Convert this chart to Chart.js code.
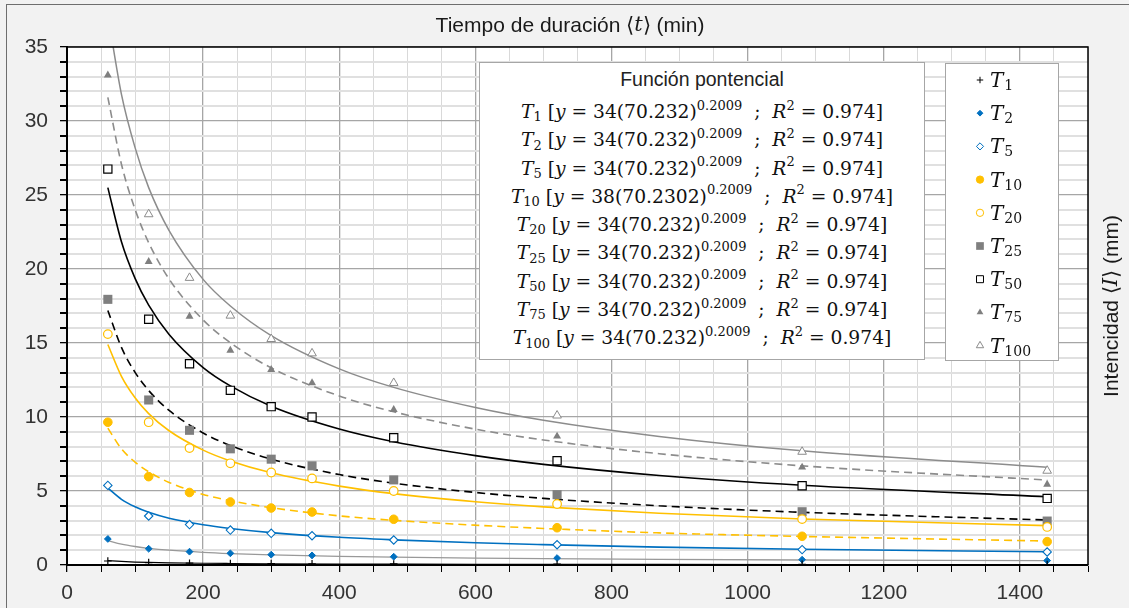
<!DOCTYPE html>
<html>
<head>
<meta charset="utf-8">
<script src="https://cdn.jsdelivr.net/npm/chart.js@4.4.1/dist/chart.umd.min.js"></script>
<style>
  body { margin: 0; background: #f2f2f2; }
  #wrap { position: relative; width: 1129px; height: 608px; }
  #eq {
    position: absolute; left: 479px; top: 62px; width: 446px; height: 298px;
    box-sizing: border-box; background: #fff; border: 1px solid #a6a6a6;
    font-family: 'DejaVu Serif', serif; font-size: 18.7px; color: #111; text-align: center;
  }
  #eq .hd { font-family: 'Liberation Sans', Arial, sans-serif; font-size: 19.5px; color: #222; height: 35px; line-height: 32px; }
  #eq .ln { height: 28.3px; line-height: 28.3px; white-space: nowrap; }
  #eq sup { font-size: 13px; position: relative; top: -0.65em; vertical-align: baseline; line-height: 0; }
  #eq sub { font-size: 13px; position: relative; top: 0.25em; vertical-align: baseline; line-height: 0; }
</style>
</head>
<body>
<div id="wrap">
  <canvas id="idfChart" width="1129" height="608"></canvas>
  <div id="eq"></div>
</div>
<script>
// duraciones (min)
const durations = [60, 120, 180, 240, 300, 360, 480, 720, 1080, 1440];
const seriesNames = ['1', '2', '5', '10', '20', '25', '50', '75', '100'];

// intensidades observadas
const t1 = [0.27, 0.16, 0.12, 0.1, 0.09, 0.08, 0.07, 0.06, 0.04, 0.035];
const t2 = [1.76, 1.1, 0.9, 0.79, 0.7, 0.65, 0.56, 0.47, 0.36, 0.3];
const t5 = [5.38, 3.31, 2.73, 2.36, 2.14, 1.98, 1.69, 1.37, 1.04, 0.88];
const t10 = [9.65, 5.97, 4.9, 4.26, 3.85, 3.58, 3.09, 2.52, 1.94, 1.58];
const t20 = [15.6, 9.65, 7.9, 6.87, 6.25, 5.85, 5.0, 4.12, 3.1, 2.57];
const t25 = [17.95, 11.15, 9.1, 7.85, 7.15, 6.7, 5.75, 4.75, 3.6, 2.97];
const t50 = [26.75, 16.6, 13.6, 11.8, 10.7, 10.0, 8.6, 7.05, 5.35, 4.5];
const t75 = [33.1, 20.5, 16.8, 14.5, 13.2, 12.3, 10.5, 8.7, 6.6, 5.45];
const t100 = [null, 23.7, 19.4, 16.85, 15.27, 14.3, 12.3, 10.1, 7.65, 6.37];

// curvas de tendencia
const trendX = [60, 80, 100, 120, 150, 200, 240, 300, 400, 480, 600, 700, 870, 1080, 1440];
const fit1 = [0.29, 0.24, 0.2, 0.175, 0.148, 0.118, 0.103, 0.086, 0.068, 0.059, 0.049, 0.043, 0.036, 0.03, 0.023];
const fit2 = [1.65, 1.41, 1.25, 1.13, 1.0, 0.853, 0.772, 0.683, 0.583, 0.528, 0.467, 0.429, 0.381, 0.338, 0.289];
const fit5 = [5.2, 4.44, 3.93, 3.56, 3.16, 2.72, 2.47, 2.19, 1.87, 1.7, 1.5, 1.38, 1.21, 1.06, 0.9];
const fit10 = [9.25, 7.85, 6.95, 6.3, 5.58, 4.77, 4.35, 3.87, 3.32, 3.02, 2.69, 2.47, 2.17, 1.93, 1.62];
const fit20 = [14.9, 12.75, 11.3, 10.23, 9.07, 7.76, 7.03, 6.23, 5.33, 4.82, 4.27, 3.93, 3.5, 3.11, 2.66];
const fit25 = [17.2, 14.7, 13.02, 11.79, 10.44, 8.92, 8.08, 7.15, 6.11, 5.53, 4.9, 4.5, 4.0, 3.56, 3.04];
const fit50 = [25.5, 21.84, 19.37, 17.56, 15.58, 13.34, 12.1, 10.73, 9.19, 8.33, 7.39, 6.8, 6.05, 5.39, 4.61];
const fit75 = [31.6, 27.08, 24.03, 21.78, 19.32, 16.56, 15.02, 13.32, 11.42, 10.35, 9.18, 8.45, 7.52, 6.7, 5.74];
const fit100 = [37.2, 31.8, 28.2, 25.5, 22.6, 19.3, 17.5, 15.5, 13.25, 12.0, 10.64, 9.78, 8.69, 7.72, 6.6];

// ecuaciones del cuadro
const eqCoef = ['34', '34', '34', '38', '34', '34', '34', '34', '34'];
const eqBase = ['70.232', '70.232', '70.232', '70.2302', '70.232', '70.232', '70.232', '70.232', '70.232'];
const eqExp = '0.2009';
const eqR2 = '0.974';

const observed = [t1, t2, t5, t10, t20, t25, t50, t75, t100];
const fitted = [fit1, fit2, fit5, fit10, fit20, fit25, fit50, fit75, fit100];

const styles = [
    { color: '#000000', marker: 'cross', r: 3.8, fill: false, bw: 1, line: '#000000', lw: 1.2, dash: [] },
    { color: '#0070c0', marker: 'rectRot', r: 3.4, fill: true, bw: 1, line: '#999999', lw: 1.3, dash: [] },
    { color: '#0070c0', marker: 'rectRot', r: 4.2, fill: false, bw: 1.1, line: '#0070c0', lw: 1.6, dash: [] },
    { color: '#ffc000', marker: 'circle', r: 4.3, fill: true, bw: 1, line: '#ffc000', lw: 1.6, dash: [8, 5] },
    { color: '#ffc000', marker: 'circle', r: 4.3, fill: false, bw: 1.2, line: '#ffc000', lw: 1.6, dash: [] },
    { color: '#7f7f7f', marker: 'rect', r: 6.4, fill: true, bw: 0, line: '#000000', lw: 1.6, dash: [8, 5] },
    { color: '#000000', marker: 'rect', r: 5.8, fill: false, bw: 1.2, line: '#000000', lw: 1.6, dash: [] },
    { color: '#7f7f7f', marker: 'triangle', r: 4.6, fill: true, bw: 0, line: '#8c8c8c', lw: 1.6, dash: [8, 5] },
    { color: '#8c8c8c', marker: 'triangle', r: 5, fill: false, bw: 1, line: '#8c8c8c', lw: 1.5, dash: [] },
];

const datasets = [];
seriesNames.forEach((name, i) => {
    const s = styles[i];
    datasets.push({
        label: 'fit T' + name,
        data: trendX.map((x, j) => ({ x: x, y: fitted[i][j] })),
        showLine: true,
        borderColor: s.line,
        borderWidth: s.lw,
        borderDash: s.dash,
        pointRadius: 0,
        cubicInterpolationMode: 'monotone',
        order: 1,
    });
    datasets.push({
        label: 'T' + name,
        data: durations.map((x, j) => ({ x: x, y: observed[i][j] })),
        showLine: false,
        pointStyle: s.marker,
        pointRadius: s.r,
        pointBackgroundColor: s.fill ? s.color : '#ffffff',
        pointBorderColor: s.color,
        pointBorderWidth: s.marker === 'cross' ? 1.2 : s.bw,
        order: 0,
    });
});

// cuadro de ecuaciones
const eqBox = document.getElementById('eq');
let html = '<div class="hd">Función pontencial</div>';
seriesNames.forEach((name, i) => {
    html += '<div class="ln"><i>T</i><sub>' + name + '</sub> [<i>y</i> = ' + eqCoef[i] + '(' + eqBase[i] + ')<sup>' +
        eqExp + '</sup>&nbsp; ;&nbsp; <i>R</i><sup>2</sup> = ' + eqR2 + ']</div>';
});
eqBox.innerHTML = html;

const sans = "'Liberation Sans', Arial, sans-serif";

function drawMixed(ctx, parts, x, y, align) {
    let total = 0;
    parts.forEach(p => { ctx.font = p.font; total += ctx.measureText(p.text).width; });
    let cx = align === 'center' ? x - total / 2 : x;
    parts.forEach(p => {
        ctx.font = p.font;
        ctx.fillText(p.text, cx, y);
        cx += ctx.measureText(p.text).width;
    });
}

const decorPlugin = {
    id: 'decor',
    beforeDraw(chart) {
        const { ctx, chartArea: a, width, height } = chart;
        ctx.save();
        ctx.fillStyle = '#f2f2f2';
        ctx.fillRect(0, 0, width, height);
        ctx.fillStyle = '#ffffff';
        ctx.fillRect(a.left, a.top, a.right - a.left, a.bottom - a.top);
        ctx.strokeStyle = '#6e6e6e';
        ctx.lineWidth = 1;
        ctx.strokeRect(6.5, 4.5, width, height);
        ctx.restore();
    },
    afterDraw(chart) {
        const { ctx, chartArea: a } = chart;
        ctx.save();
        // marco del area
        ctx.strokeStyle = '#000';
        ctx.lineWidth = 1.5;
        ctx.beginPath();
        ctx.moveTo(a.left, a.top);
        ctx.lineTo(a.right, a.top);
        ctx.lineTo(a.right, a.bottom);
        ctx.stroke();

        // titulos
        ctx.fillStyle = '#1a1a1a';
        ctx.textBaseline = 'middle';
        drawMixed(ctx, [
            { text: 'Tiempo de duración ⟨', font: '21px ' + sans },
            { text: 't', font: "italic 21px 'DejaVu Serif', serif" },
            { text: '⟩ (min)', font: '21px ' + sans },
        ], 570, 26, 'center');

        ctx.save();
        ctx.translate(1112, (a.top + a.bottom) / 2);
        ctx.rotate(-Math.PI / 2);
        drawMixed(ctx, [
            { text: 'Intencidad ⟨', font: '21px ' + sans },
            { text: 'I', font: "italic 21px 'DejaVu Serif', serif" },
            { text: '⟩ (mm)', font: '21px ' + sans },
        ], 0, 0, 'center');
        ctx.restore();

        // leyenda
        const lx = 945, ly = 63, lw = 113, lh = 297;
        ctx.fillStyle = '#ffffff';
        ctx.fillRect(lx, ly, lw, lh);
        ctx.strokeStyle = '#a6a6a6';
        ctx.lineWidth = 1;
        ctx.strokeRect(lx + 0.5, ly + 0.5, lw, lh);
        seriesNames.forEach((name, i) => {
            const s = styles[i];
            const cy = 80 + i * 33.2;
            ctx.fillStyle = s.fill ? s.color : '#ffffff';
            ctx.strokeStyle = s.color;
            Chart.helpers.drawPoint(ctx, {
                pointStyle: s.marker,
                radius: s.r * 0.85,
                rotation: 0,
                borderWidth: s.marker === 'cross' ? 1.2 : s.bw,
            }, 980, cy);
            ctx.fillStyle = '#111';
            ctx.textBaseline = 'alphabetic';
            ctx.textAlign = 'left';
            ctx.font = "italic 20px 'DejaVu Serif', serif";
            ctx.fillText('T', 990, cy + 7);
            const tw = ctx.measureText('T').width;
            ctx.font = "14px 'DejaVu Serif', serif";
            ctx.fillText(name, 990 + tw + 1, cy + 10);
        });
        ctx.restore();
    },
};

const canvas = document.getElementById('idfChart');
new Chart(canvas.getContext('2d'), {
    type: 'scatter',
    data: { datasets: datasets },
    options: {
        responsive: false,
        animation: false,
        layout: { padding: { top: 47, right: 41, left: 0, bottom: 0 } },
        plugins: {
            legend: { display: false },
            tooltip: { enabled: false },
        },
        scales: {
            x: {
                type: 'linear',
                position: 'bottom',
                min: 0,
                max: 1500,
                afterFit: (scale) => { scale.height = 43; },
                ticks: {
                    stepSize: 50,
                    autoSkip: false,
                    maxRotation: 0,
                    padding: 9,
                    color: '#333333',
                    font: { family: sans, size: 21 },
                    callback: (v) => (v % 200 === 0 ? v : ''),
                },
                grid: {
                    color: (c) => (c.tick && c.tick.value % 200 === 0 ? '#a6a6a6' : '#d9d9d9'),
                    lineWidth: (c) => (c.tick && c.tick.value % 200 === 0 ? 1.3 : 1),
                    tickColor: '#000',
                    tickLength: 7,
                },
                border: { color: '#000', width: 2 },
            },
            y: {
                min: 0,
                max: 35,
                afterFit: (scale) => { scale.width = 67; },
                ticks: {
                    stepSize: 1,
                    autoSkip: false,
                    padding: 12,
                    color: '#333333',
                    font: { family: sans, size: 21 },
                    callback: (v) => (v % 5 === 0 ? v : ''),
                },
                grid: {
                    color: (c) => (c.tick && c.tick.value % 5 === 0 ? '#a6a6a6' : '#e0e0e0'),
                    lineWidth: (c) => (c.tick && c.tick.value % 5 === 0 ? 1.3 : 2),
                    tickColor: '#000',
                    tickLength: 7,
                },
                border: { color: '#000', width: 2 },
            },
        },
    },
    plugins: [decorPlugin],
});
</script>
</body>
</html>
